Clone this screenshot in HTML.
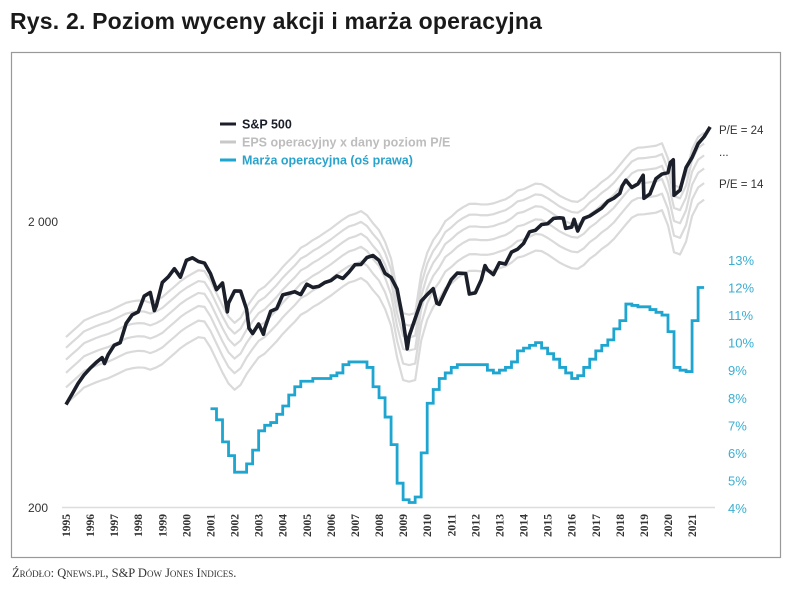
<!DOCTYPE html>
<html><head><meta charset="utf-8"><style>
body{margin:0;background:#fff;width:785px;height:593px;overflow:hidden;font-family:"Liberation Sans",sans-serif}
#title{position:absolute;left:10px;top:8px;font-size:23px;font-weight:bold;color:#1a1a1a;letter-spacing:0.2px}
#src{position:absolute;left:12px;top:566px;font-family:"Liberation Serif",serif;font-size:12.5px;color:#333;font-variant:small-caps}
svg{position:absolute;left:0;top:0}
</style></head><body>
<div id="title">Rys. 2. Poziom wyceny akcji i marża operacyjna</div>
<svg id="chart" width="785" height="593"></svg>
<div id="src">Źródło: Qnews.pl, S&amp;P Dow Jones Indices.</div>
<script>
const years=[1995,1996,1997,1998,1999,2000,2001,2002,2003,2004,2005,2006,2007,2008,2009,2010,2011,2012,2013,2014,2015,2016,2017,2018,2019,2020,2021];
const leftTicks=[200,2000];
const leftTickLabels=["200","2 000"];
const rightTicks=[4,5,6,7,8,9,10,11,13,12];
const spDates=[1995,1995.25,1995.5,1995.75,1996,1996.25,1996.5,1996.6,1996.75,1997,1997.25,1997.5,1997.75,1998,1998.25,1998.5,1998.67,1998.75,1999,1999.25,1999.5,1999.75,2000,2000.25,2000.5,2000.75,2001,2001.25,2001.5,2001.7,2001.75,2002,2002.25,2002.5,2002.6,2002.75,2003,2003.2,2003.25,2003.5,2003.75,2004,2004.25,2004.5,2004.75,2005,2005.25,2005.5,2005.75,2006,2006.25,2006.5,2006.75,2007,2007.25,2007.5,2007.75,2008,2008.25,2008.5,2008.75,2009,2009.17,2009.25,2009.5,2009.75,2010,2010.25,2010.4,2010.5,2010.75,2011,2011.25,2011.6,2011.75,2012,2012.25,2012.4,2012.5,2012.75,2013,2013.25,2013.5,2013.75,2014,2014.25,2014.5,2014.75,2015,2015.25,2015.5,2015.65,2015.75,2016,2016.1,2016.25,2016.5,2016.75,2017,2017.25,2017.5,2017.75,2018,2018.1,2018.25,2018.5,2018.75,2018.97,2019,2019.25,2019.5,2019.75,2020,2020.1,2020.22,2020.25,2020.5,2020.75,2021,2021.25,2021.5,2021.75];
const spValues=[460,500,545,584,616,645,671,640,687,741,757,885,947,970,1102,1134,980,1017,1229,1286,1373,1283,1469,1499,1455,1437,1320,1160,1224,970,1041,1148,1147,990,850,815,880,810,848,975,996,1112,1126,1141,1115,1212,1181,1191,1229,1248,1295,1270,1336,1418,1421,1503,1527,1468,1323,1280,1166,903,720,798,919,1057,1115,1169,1040,1031,1141,1258,1326,1321,1120,1131,1258,1408,1362,1310,1441,1426,1569,1606,1682,1848,1872,1960,1972,2059,2068,2063,1900,1920,2044,1860,2060,2099,2168,2239,2363,2423,2519,2674,2800,2641,2718,2914,2420,2507,2834,2942,2977,3231,3300,2480,2585,3100,3363,3756,3973,4298,4450,4600];
const epsDates=[1995,1995.25,1995.5,1995.75,1996,1996.25,1996.5,1996.75,1997,1997.25,1997.5,1997.75,1998,1998.25,1998.5,1998.75,1999,1999.25,1999.5,1999.75,2000,2000.25,2000.5,2000.75,2001,2001.25,2001.5,2001.75,2002,2002.25,2002.5,2002.75,2003,2003.25,2003.5,2003.75,2004,2004.25,2004.5,2004.75,2005,2005.25,2005.5,2005.75,2006,2006.25,2006.5,2006.75,2007,2007.25,2007.5,2007.75,2008,2008.25,2008.5,2008.75,2009,2009.25,2009.5,2009.75,2010,2010.25,2010.5,2010.75,2011,2011.25,2011.5,2011.75,2012,2012.25,2012.5,2012.75,2013,2013.25,2013.5,2013.75,2014,2014.25,2014.5,2014.75,2015,2015.25,2015.5,2015.75,2016,2016.25,2016.5,2016.75,2017,2017.25,2017.5,2017.75,2018,2018.25,2018.5,2018.75,2019,2019.25,2019.5,2019.75,2020,2020.25,2020.5,2020.75,2021,2021.25,2021.5];
const epsValues=[33,34.5,36,37.7,38.5,39.3,40,40.6,41.5,42.5,43.5,44,44.3,44.2,43.5,44.3,45.5,47.5,49.5,51.7,53.5,55,56.5,56.1,52,47,42.5,38.9,37,38.5,42,45,48,49.5,52,54.7,58,61,64,67.7,69.5,72,74,76.5,79,82,85,87.7,89,91,88,82.5,78,71,62,48,40,39.5,40,55,65,72,77,83.8,87,91,94,96.4,96.5,96,96,96.8,98.5,100,103,107.3,108.5,111,113.5,113,110,106.5,103,100.5,98.5,98,101,106.3,110,115,119,124.5,132,140,148,151.6,152,153,154,157.1,139,112,110,122,150,165,171];
const peLevels=[14,16,18,20,22,24];
const marginDates=[2001,2001.25,2001.5,2001.75,2002,2002.25,2002.5,2002.75,2003,2003.25,2003.5,2003.75,2004,2004.25,2004.5,2004.75,2005,2005.25,2005.5,2005.75,2006,2006.25,2006.5,2006.75,2007,2007.25,2007.5,2007.75,2008,2008.25,2008.5,2008.75,2009,2009.25,2009.5,2009.75,2010,2010.25,2010.5,2010.75,2011,2011.25,2011.5,2011.75,2012,2012.25,2012.5,2012.75,2013,2013.25,2013.5,2013.75,2014,2014.25,2014.5,2014.75,2015,2015.25,2015.5,2015.75,2016,2016.25,2016.5,2016.75,2017,2017.25,2017.5,2017.75,2018,2018.25,2018.5,2018.75,2019,2019.25,2019.5,2019.75,2020,2020.25,2020.5,2020.75,2021,2021.25,2021.5];
const marginValues=[7.6,7.2,6.4,5.9,5.3,5.3,5.6,6.1,6.8,7.0,7.1,7.4,7.7,8.1,8.4,8.6,8.6,8.7,8.7,8.7,8.8,8.9,9.2,9.3,9.3,9.3,9.1,8.4,8.0,7.3,6.3,4.9,4.3,4.2,4.4,6.0,7.8,8.3,8.7,8.9,9.1,9.2,9.2,9.2,9.2,9.2,9.0,8.9,9.0,9.1,9.3,9.7,9.8,9.9,10.0,9.8,9.6,9.4,9.1,8.9,8.7,8.8,9.1,9.4,9.7,9.9,10.1,10.5,10.8,11.4,11.35,11.3,11.3,11.2,11.1,11.0,10.4,9.1,9.0,8.95,10.8,12.0,12.0];

const svg=document.getElementById('chart');
const NS='http://www.w3.org/2000/svg';
const x=t=>66+(t-1995)*24.08;
const yL=v=>508-(Math.log10(v)-Math.log10(200))*286;
const yR=m=>508-(m-4)*27.56;
function mk(tag,attrs,parent){const e=document.createElementNS(NS,tag);for(const k in attrs)e.setAttribute(k,attrs[k]);(parent||svg).appendChild(e);return e;}

const frame=mk('rect',{x:11.5,y:52.5,width:769,height:505,fill:'none',stroke:'#999','stroke-width':1.2});


const axis=mk('line',{x1:62,x2:715,y1:507.5,y2:507.5,stroke:'#ddd','stroke-width':1.5});



years.forEach(yr=>{
  const t=mk('text',{x:0,y:0,transform:`translate(${x(yr)+4},${514}) rotate(-90)`,'text-anchor':'end','font-family':'Liberation Serif, serif','font-size':11.5,'font-weight':'bold',fill:'#333'});
  t.textContent=yr;
  
  
});
leftTicks.forEach((v,i)=>{
  const t=mk('text',{x:28,y:yL(v)+4,'text-anchor':'start','font-size':12,fill:'#333'});
  t.textContent=leftTickLabels[i];
  
  
});
rightTicks.forEach(m=>{
  const t=mk('text',{x:728,y:yR(m)+5,'font-size':13,fill:'#3aaed2'});
  t.textContent=m+'%';
  
  
});

peLevels.forEach(pe=>{
  const d=epsDates.map((t,i)=>(i?'L':'M')+x(t)+','+yL(epsValues[i]*pe)).join('');
  const p=mk('path',{d,fill:'none',stroke:'#dadada','stroke-width':2.2,'stroke-linejoin':'round'});
  
  
});

let dm='';
marginDates.forEach((t,i)=>{const px=x(t),py=yR(marginValues[i]);
  if(i===0)dm+=`M${px},${py}`;else dm+=`H${px}V${py}`;});
dm+=`H${x(2021.5)}`;
const mp=mk('path',{d:dm,fill:'none',stroke:'#1ea5d0','stroke-width':2.8});



const dsp=spDates.map((t,i)=>(i?'L':'M')+x(t)+','+yL(spValues[i])).join('');
const sp=mk('path',{d:dsp,fill:'none',stroke:'#1b1f2a','stroke-width':3.6,'stroke-linejoin':'round'});



const leg=[['S&P 500','#1b1f2a','#1b1f2a',124],['EPS operacyjny x dany poziom P/E','#c8c8c8','#bdbdbd',142],['Marża operacyjna (oś prawa)','#1ea5d0','#2aa3cc',160]];
leg.forEach(([label,lc,tc,yy],i)=>{
  const l=mk('line',{x1:220,x2:236,y1:yy,y2:yy,stroke:lc,'stroke-width':3});
  
  
  const t=mk('text',{x:242,y:yy+4.5,'font-size':12.5,'font-weight':'bold',fill:tc});
  t.textContent=label;
  
  
});
[['P/E = 24',134],['...',156],['P/E = 14',188]].forEach(([s,yy])=>{
  const t=mk('text',{x:719,y:yy,'font-size':11.5,fill:'#333'});
  t.textContent=s;
  
  
});
</script>
</body></html>
